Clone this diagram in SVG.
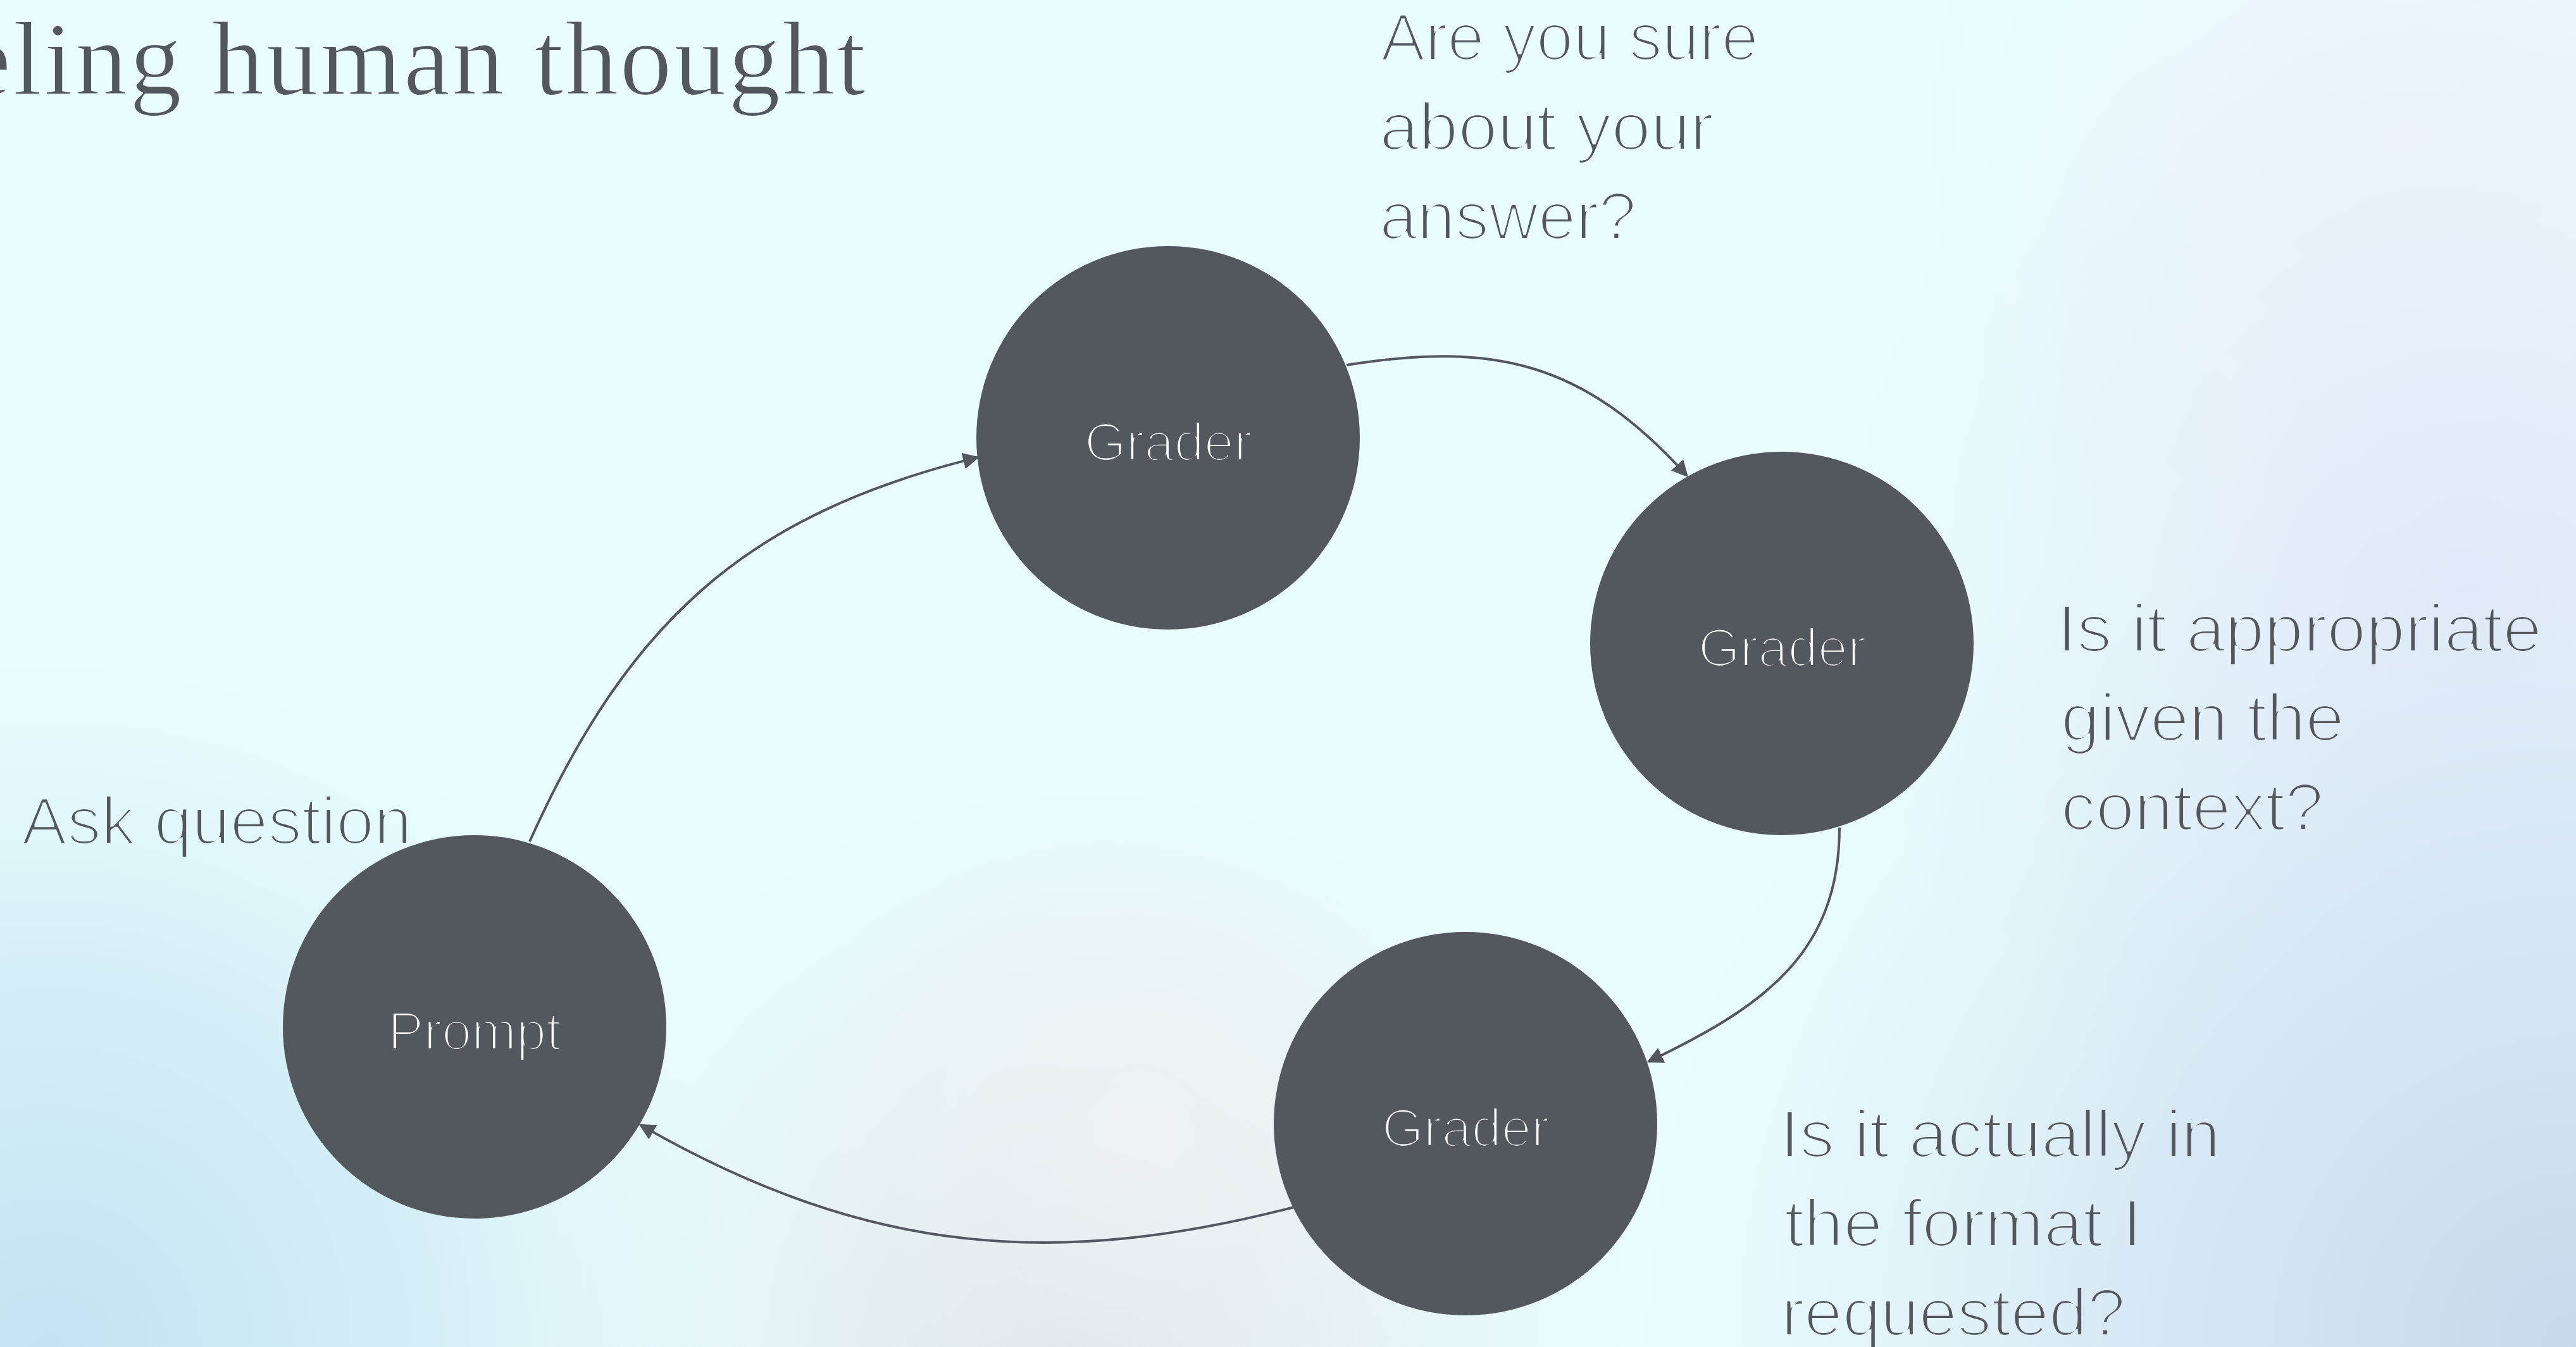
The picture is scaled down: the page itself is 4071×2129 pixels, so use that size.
<svg xmlns="http://www.w3.org/2000/svg" width="4071" height="2129" viewBox="0 0 4071 2129">
  <defs>
    <style>
      .node { fill: #53585f; }
      .node-label { font-family: "Liberation Sans", Arial, sans-serif; font-size: 85px; fill: #ffffff; text-anchor: middle; filter: url(#thin15); }
      .note { font-family: "Liberation Sans", Arial, sans-serif; font-size: 105px; fill: #53585e; }
      .notes { filter: url(#thinNotes); }
      .title { font-family: "Liberation Serif", "Times New Roman", serif; font-size: 165px; fill: #53585e; filter: url(#thin1); }
      .edge { fill: none; stroke: #53585f; stroke-width: 4; }
    </style>
    <!-- light-weight look for the regular faces -->
    <filter id="thin1" x="-5%" y="-20%" width="110%" height="140%">
      <feMorphology operator="erode" radius="1"/>
    </filter>
    <filter id="thin15" x="-10%" y="-20%" width="120%" height="140%">
      <feMorphology operator="erode" radius="1.5"/>
    </filter>
    <filter id="thinNotes" x="0" y="0" width="4071" height="2129" filterUnits="userSpaceOnUse">
      <feMorphology operator="erode" radius="1.5"/>
    </filter>
    <marker id="arrow" viewBox="0 0 26 26" refX="23" refY="13" markerWidth="26" markerHeight="26" markerUnits="userSpaceOnUse" orient="auto">
      <path d="M0,0 L26,13 L0,26 z" fill="#53585f"/>
    </marker>
    <radialGradient id="bgLowLeft" cx="80" cy="2129" r="1100" gradientUnits="userSpaceOnUse">
      <stop offset="0" stop-color="#c3e2f4" stop-opacity="1"/>
      <stop offset="0.55" stop-color="#cde9f5" stop-opacity="0.7"/>
      <stop offset="1" stop-color="#d6eff6" stop-opacity="0"/>
    </radialGradient>
    <radialGradient id="bgLowRight" cx="4071" cy="2129" r="1500" gradientUnits="userSpaceOnUse">
      <stop offset="0" stop-color="#c6d9eb" stop-opacity="1"/>
      <stop offset="0.5" stop-color="#d3e3f2" stop-opacity="0.75"/>
      <stop offset="1" stop-color="#e0ecf8" stop-opacity="0"/>
    </radialGradient>
    <radialGradient id="bgRightMid" cx="3900" cy="900" r="1000" gradientUnits="userSpaceOnUse">
      <stop offset="0" stop-color="#e2e8f8" stop-opacity="0.9"/>
      <stop offset="1" stop-color="#e2e8f8" stop-opacity="0"/>
    </radialGradient>
    <radialGradient id="bgRightTop" cx="3800" cy="200" r="800" gradientUnits="userSpaceOnUse">
      <stop offset="0" stop-color="#eef3fc" stop-opacity="0.8"/>
      <stop offset="1" stop-color="#eef3fc" stop-opacity="0"/>
    </radialGradient>
    <radialGradient id="bgLowMid" cx="1700" cy="2129" r="900" gradientUnits="userSpaceOnUse">
      <stop offset="0" stop-color="#dce4ea" stop-opacity="1"/>
      <stop offset="1" stop-color="#e6ecef" stop-opacity="0"/>
    </radialGradient>
    <radialGradient id="bgGlow" cx="1800" cy="1800" r="560" gradientUnits="userSpaceOnUse">
      <stop offset="0" stop-color="#eef1f3" stop-opacity="0.9"/>
      <stop offset="1" stop-color="#eef1f3" stop-opacity="0"/>
    </radialGradient>
  </defs>

  <!-- soft backdrop -->
  <rect width="4071" height="2129" fill="#e9fdfd"/>
  <rect width="4071" height="2129" fill="url(#bgRightTop)"/>
  <rect width="4071" height="2129" fill="url(#bgRightMid)"/>
  <rect width="4071" height="2129" fill="url(#bgLowMid)"/>
  <rect width="4071" height="2129" fill="url(#bgLowRight)"/>
  <rect width="4071" height="2129" fill="url(#bgLowLeft)"/>
  <rect width="4071" height="2129" fill="url(#bgGlow)"/>

  <!-- heading -->
  <text class="title" x="-56" y="149" textLength="1424">eling human thought</text>

  <!-- annotations -->
  <g id="annotations" class="notes">
    <text class="note" x="2182" y="95" textLength="597" lengthAdjust="spacingAndGlyphs">Are you sure</text>
    <text class="note" x="2180" y="237" textLength="528" lengthAdjust="spacingAndGlyphs">about your</text>
    <text class="note" x="2180" y="378" textLength="406" lengthAdjust="spacingAndGlyphs">answer?</text>
    <text class="note" x="3251" y="1030" textLength="766" lengthAdjust="spacingAndGlyphs">Is it appropriate</text>
    <text class="note" x="3257" y="1171" textLength="448" lengthAdjust="spacingAndGlyphs">given the</text>
    <text class="note" x="3257" y="1312" textLength="415" lengthAdjust="spacingAndGlyphs">context?</text>
    <text class="note" x="2813" y="1829" textLength="696" lengthAdjust="spacingAndGlyphs">Is it actually in</text>
    <text class="note" x="2820" y="1970" textLength="565" lengthAdjust="spacingAndGlyphs">the format I</text>
    <text class="note" x="2815" y="2111" textLength="544" lengthAdjust="spacingAndGlyphs">requested?</text>
    <text class="note" x="34" y="1334" textLength="617" lengthAdjust="spacingAndGlyphs">Ask question</text>
  </g>

  <!-- connectors -->
  <g id="connectors">
    <path class="edge" marker-end="url(#arrow)" d="M837,1330 C993,984 1176,814 1545,723"/>
    <path class="edge" marker-end="url(#arrow)" d="M2128,577 C2365,539 2505,574 2666,752"/>
    <path class="edge" marker-end="url(#arrow)" d="M2907,1308 C2907,1508 2785,1592 2605,1678"/>
    <path class="edge" marker-end="url(#arrow)" d="M2045,1908 C1676,2003 1377,1988 1012,1778"/>
  </g>

  <!-- nodes -->
  <g id="node-prompt">
    <circle class="node" cx="750" cy="1623" r="303"/>
    <text class="node-label" x="750" y="1659">Prompt</text>
  </g>
  <g id="node-grader-1">
    <circle class="node" cx="1846" cy="692" r="303"/>
    <text class="node-label" x="1846" y="728">Grader</text>
  </g>
  <g id="node-grader-2">
    <circle class="node" cx="2816" cy="1017" r="303"/>
    <text class="node-label" x="2816" y="1053">Grader</text>
  </g>
  <g id="node-grader-3">
    <circle class="node" cx="2316" cy="1776" r="303"/>
    <text class="node-label" x="2316" y="1812">Grader</text>
  </g>
</svg>
